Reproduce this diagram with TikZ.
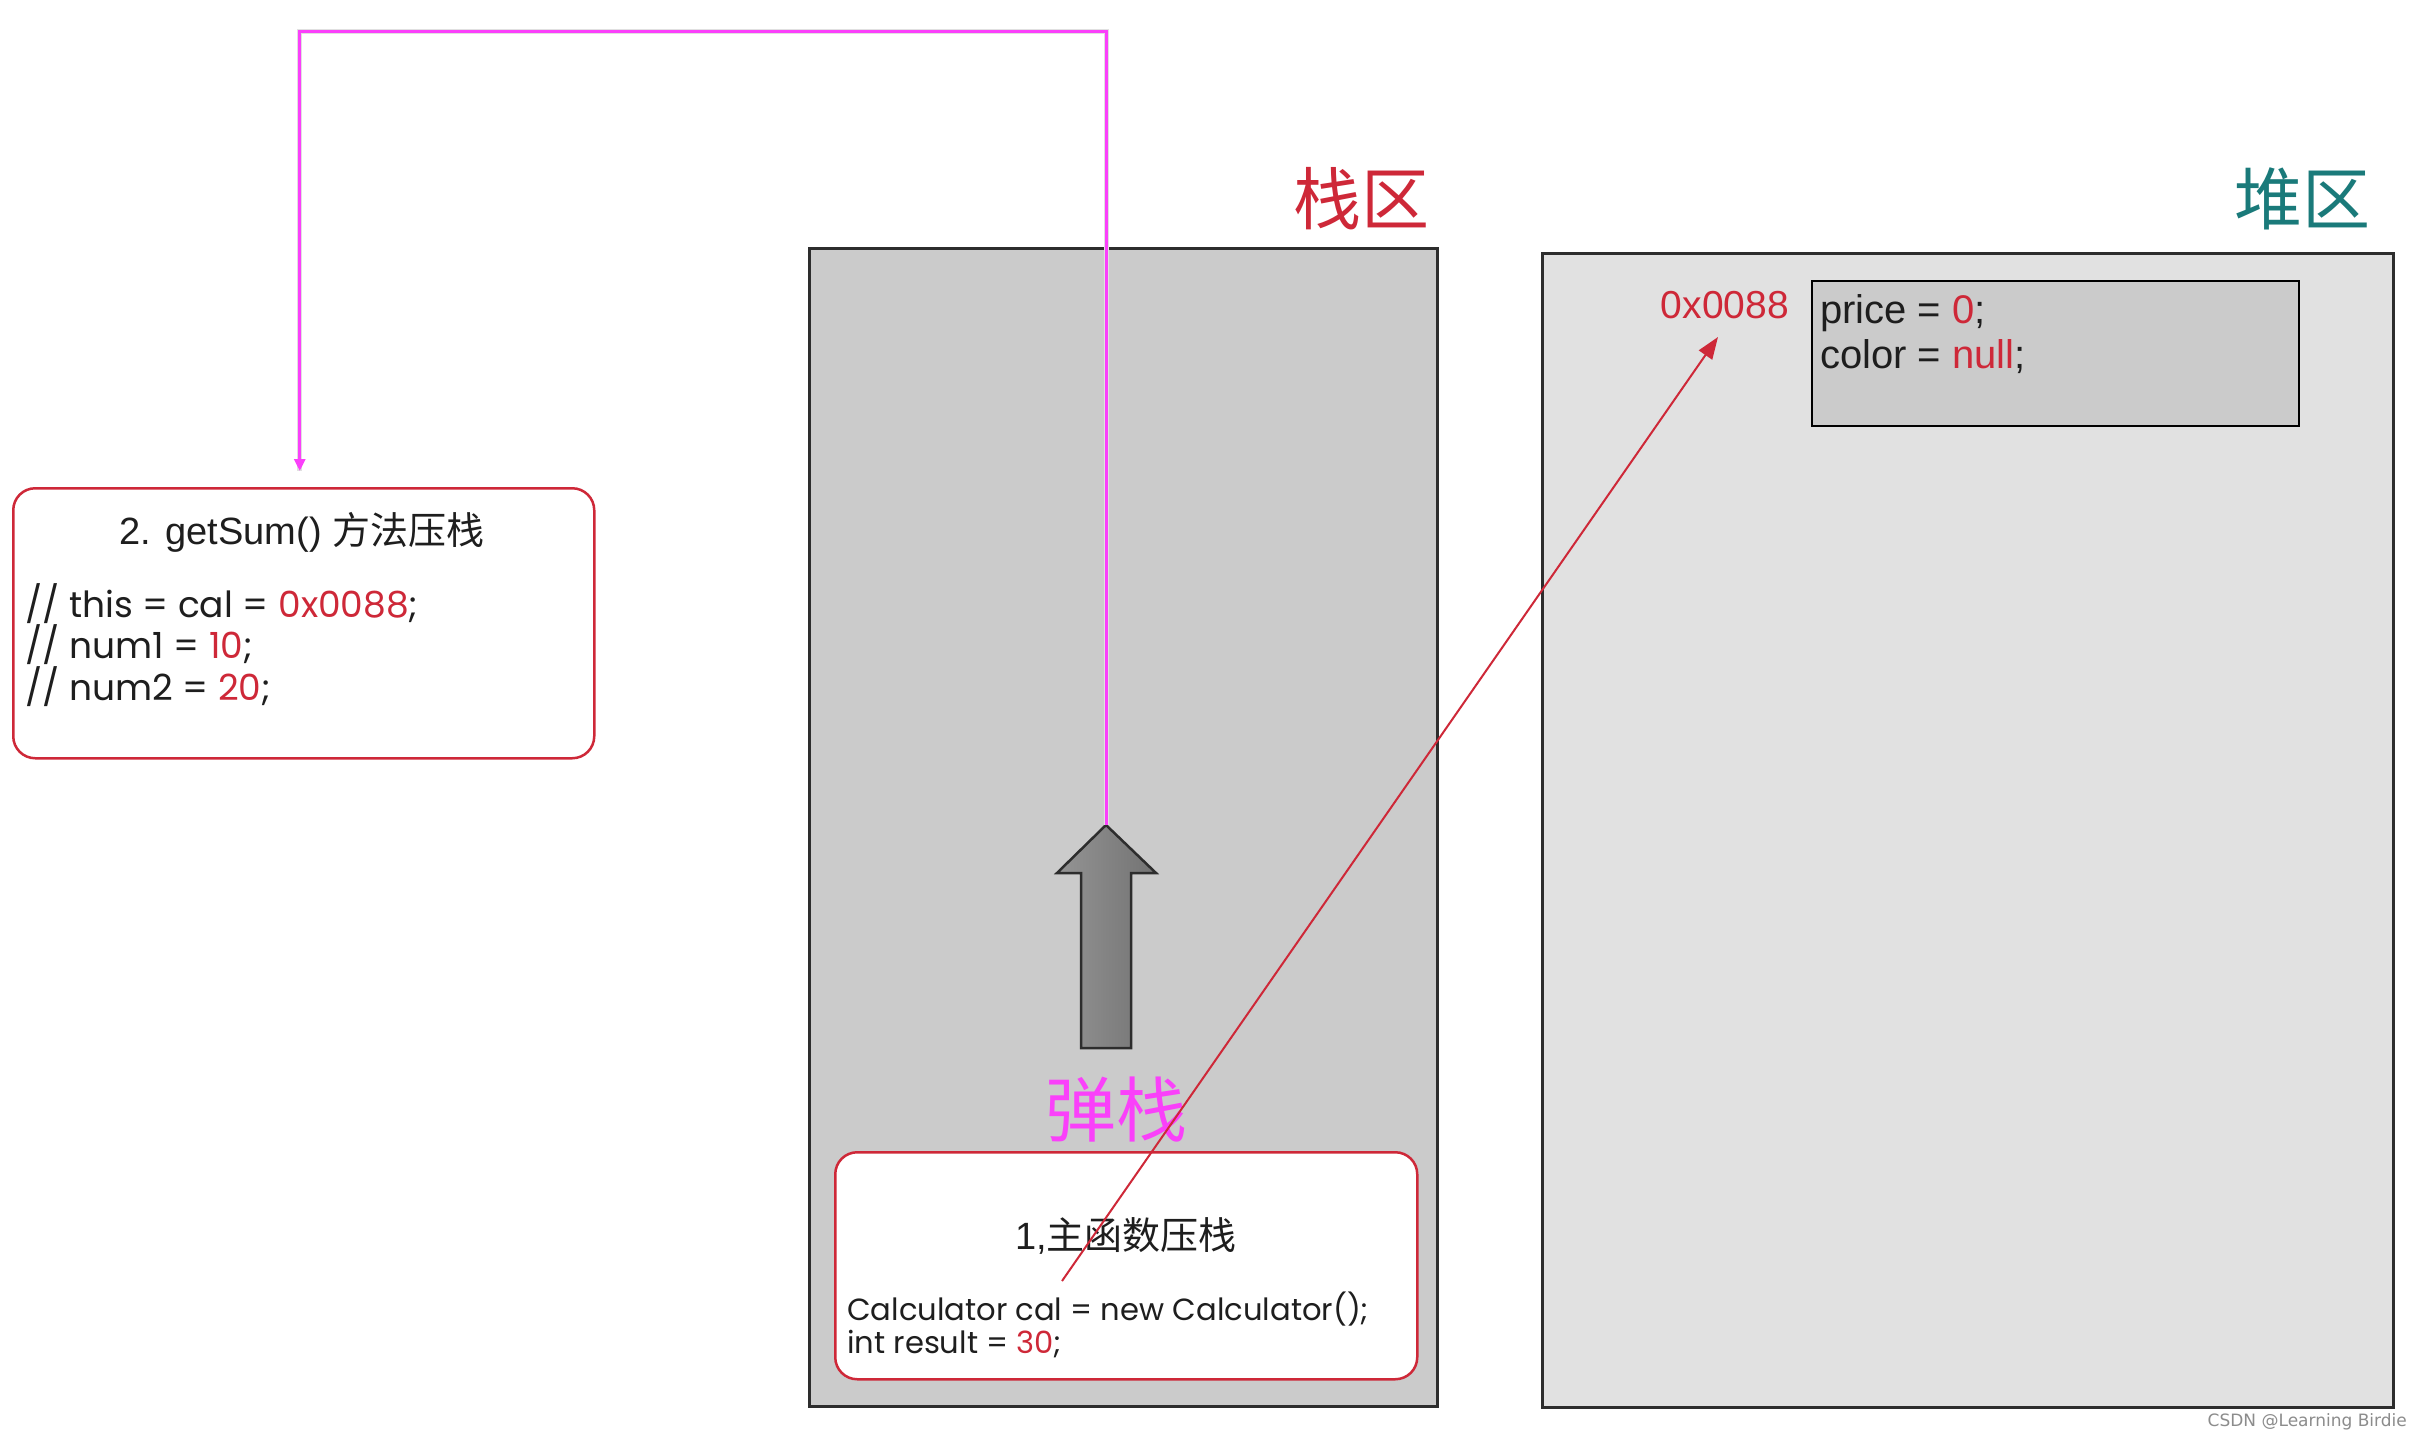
\documentclass[tikz,border=0pt]{standalone}
\usepackage{fontspec}
\setmainfont{Liberation Sans}
\newfontfamily\cjk{Noto Sans CJK SC}
\newfontfamily\codefont{Poppins}
\newfontfamily\markfont{DejaVu Sans}
\usetikzlibrary{arrows.meta,calc}
\definecolor{cred}{RGB}{206,40,56}
\definecolor{cteal}{RGB}{26,122,122}
\definecolor{cmag}{RGB}{250,64,250}
\definecolor{stackfill}{RGB}{203,203,203}
\definecolor{heapfill}{RGB}{225,225,225}
\definecolor{edgecol}{RGB}{45,45,45}
\definecolor{txt}{RGB}{30,30,30}
\begin{document}
\begin{tikzpicture}[x=1pt,y=-1pt,
  area/.style={draw=edgecol, line width=2.5pt, anchor=north west, inner sep=0pt},
  frame/.style={draw=cred, line width=2.5pt, rounded corners=22pt, fill=white, anchor=north west, inner sep=0pt},
  titletext/.style={font=\fontsize{38}{44}\selectfont, text=txt, inner sep=0pt},
  codetext/.style={anchor=base west, align=left, inner sep=0pt, text=txt},
  bigcjk/.style={inner sep=0pt, anchor=center},
  popline/.style={draw=cmag, line width=3pt},
  popshadow/.style={draw=black!12, line width=5pt},
  refline/.style={draw=cred, line width=2pt, -{Triangle[length=22pt,width=16pt]}}
]
\useasboundingbox[fill=white] (0,0) rectangle (2423,1440);

% areas
\node[area, fill=stackfill, minimum width=628pt, minimum height=1158pt] (stack) at (808,247) {};
\node[area, fill=heapfill, minimum width=851pt, minimum height=1154pt] (heap) at (1541,252) {};
\node[area, fill=stackfill, line width=2pt, draw=black, minimum width=487pt, minimum height=145pt] (obj) at (1811,280) {};

% titles
\node[bigcjk, text=cred, font=\cjk\fontsize{68}{72}\selectfont] (stacklabel) at (1361,199) {栈区};
\node[bigcjk, text=cteal, font=\cjk\fontsize{68}{72}\selectfont] (heaplabel) at (2302,199) {堆区};

% object contents (base = baseline of last line)
\node[codetext, font=\fontsize{40}{45}\selectfont] (objtext) at (1820,368)
  {price = {\color{cred}0};\\color = {\color{cred}null};};
\node[anchor=base east, inner sep=0pt, text=cred, font=\fontsize{39}{44}\selectfont] (addr) at (1789,318) {0x0088};

% getSum frame
\node[frame, minimum width=581pt, minimum height=270pt] (getsum) at (12,487) {};
\node[titletext] (getsumtitle) at (302,532) {2. getSum() {\cjk 方法压栈}};
\node[codetext, font=\codefont\fontsize{36}{38.5}\selectfont] (getsumcode) at (25,700)
  {// this = cal = {\color{cred}0x0088};\\// num1 = {\color{cred}10};\\// num2 = {\color{cred}20};};

% main frame
\node[frame, minimum width=582pt, minimum height=227pt] (mainbox) at (834,1151) {};
\node[titletext] (maintitle) at (1126,1236) {1,{\cjk 主函数压栈}};
\node[codetext, font=\codefont\fontsize{30.6}{33}\selectfont] (maincode) at (847,1353)
  {Calculator cal = new Calculator();\\int result = {\color{cred}30};};

% pop arrow
\shade[left color=black!42, right color=black!55, draw=edgecol, line width=2.5pt, line join=miter]
  (1106,825) -- (1156,873) -- (1131,873) -- (1131,1048) -- (1081,1048) -- (1081,873) -- (1057,873) -- cycle;
\coordinate (poptip) at (1106,825);
\node[bigcjk, text=cmag, font=\cjk\fontsize{71}{75}\selectfont] (poplabel) at (1116,1110) {弹栈};

% pop connector
\coordinate (gsin) at ($(getsum.north)+(-4,-16)$);
\coordinate (topy) at (0,31);
\draw[popshadow, shift={(3pt,-4pt)}] (poptip) -- (poptip |- topy) -| (gsin);
\draw[popline, -{Triangle[length=12pt,width=11pt]}] (poptip) -- (poptip |- topy) -| (gsin);

% reference arrow
\coordinate (refstart) at (1062,1281);
\coordinate (refend) at (1718,337);
\draw[refline] (refstart) -- (refend);

% watermark
\node[anchor=base east, inner sep=0pt, text=black!45, font=\markfont\fontsize{17}{19}\selectfont] (mark) at (2407,1426) {CSDN @Learning Birdie};
\end{tikzpicture}
\end{document}
